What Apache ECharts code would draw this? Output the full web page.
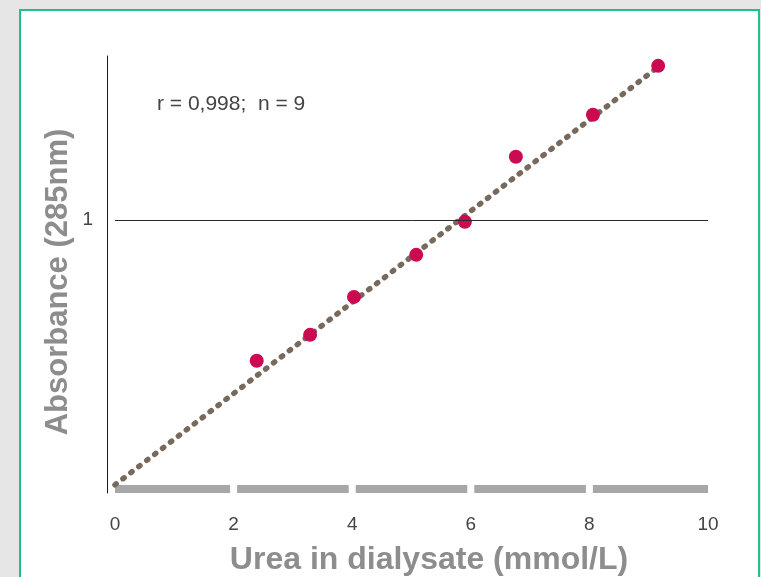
<!DOCTYPE html>
<html>
<head>
<meta charset="utf-8">
<script src="https://cdn.jsdelivr.net/npm/echarts@6/dist/echarts.min.js"></script>
<style>
  html, body { margin: 0; padding: 0; background: #e6e6e6; }
  #chart { width: 761px; height: 577px; }
</style>
</head>
<body>
<div id="chart"></div>
<script>
// Calibration measurements: urea concentration vs absorbance
const ureaValues = [2.39, 3.29, 4.03, 5.08, 5.90, 6.76, 8.06, 9.16];
const absorbanceValues = [0.484, 0.579, 0.718, 0.872, 0.993, 1.231, 1.385, 1.564];

// Regression line end points
const fitX = [0, 9.1];
const fitY = [0.03, 1.55];

// Axis ranges and ticks
const xTicks = [0, 2, 4, 6, 8, 10];
const yTickLabels = [1];
const statsText = 'r = 0,998;  n = 9';

const points = ureaValues.map((x, i) => [x, absorbanceValues[i]]);
const fitLine = fitX.map((x, i) => [x, fitY[i]]);
const baseSegments = xTicks.slice(0, -1).map((t, i) => [t, xTicks[i + 1]]);

const chart = echarts.init(document.getElementById('chart'), null, { renderer: 'canvas' });

const tickFont = { color: '#444444', fontSize: 19, fontFamily: '"Liberation Sans", Arial, sans-serif' };
const titleColor = '#8d8d8d';

chart.setOption({
  backgroundColor: '#e6e6e6',
  animation: false,
  grid: { left: 115, right: 53, top: 56, bottom: 84 },
  graphic: [
    {
      type: 'rect', z: -10, silent: true,
      shape: { x: 20, y: 10, width: 739, height: 600 },
      style: { fill: '#ffffff', stroke: '#22bf8e', lineWidth: 2 }
    },
    {
      type: 'text', z: 10,
      left: 157, top: 94,
      style: { text: statsText, fill: '#444444', font: '21px "Liberation Sans", Arial, sans-serif' }
    },
    {
      type: 'text', z: 10,
      x: 429, y: 560,
      style: {
        text: 'Urea in dialysate (mmol/L)', fill: titleColor,
        font: 'bold 32px "Liberation Sans", Arial, sans-serif',
        align: 'center', verticalAlign: 'middle'
      }
    },
    {
      type: 'text', z: 10,
      x: 58, y: 282, rotation: Math.PI / 2,
      style: {
        text: 'Absorbance (285nm)', fill: titleColor,
        font: 'bold 31px "Liberation Sans", Arial, sans-serif',
        align: 'center', verticalAlign: 'middle'
      }
    }
  ],
  xAxis: {
    type: 'value', min: 0, max: 10, interval: 2,
    axisLine: { show: false },
    axisTick: { show: false },
    splitLine: { show: false },
    axisLabel: { ...tickFont, margin: 22 }
  },
  yAxis: {
    type: 'value', min: 0, max: 1.6,
    offset: 8,
    axisLine: { show: true, onZero: false, lineStyle: { color: '#1a1a1a', width: 1 } },
    axisTick: { show: false },
    splitLine: { show: false },
    axisLabel: { ...tickFont, margin: 14, customValues: yTickLabels }
  },
  series: [
    {
      // segmented grey baseline along the x axis
      type: 'custom',
      silent: true,
      z: 1,
      data: baseSegments,
      renderItem: function (params, api) {
        const a = api.value(0), b = api.value(1);
        const p0 = api.coord([a, 0]);
        const p1 = api.coord([b, 0]);
        const gap = 3.5;
        const x0 = a === xTicks[0] ? p0[0] : p0[0] + gap;
        const x1 = b === xTicks[xTicks.length - 1] ? p1[0] : p1[0] - gap;
        return {
          type: 'rect',
          shape: { x: x0, y: p0[1] - 8, width: x1 - x0, height: 8 },
          style: { fill: '#a7a7a9' }
        };
      },
      encode: { x: [0, 1] }
    },
    {
      type: 'line',
      data: fitLine,
      symbol: 'none',
      z: 2,
      lineStyle: { color: '#776a5d', width: 5.5, type: [1.5, 8.5], cap: 'round' },
      markLine: {
        silent: true,
        symbol: 'none',
        label: { show: false },
        lineStyle: { color: '#2a2a2a', width: 1, type: 'solid' },
        data: [{ yAxis: 1 }]
      }
    },
    {
      type: 'scatter',
      data: points,
      symbol: 'circle',
      symbolSize: 14,
      z: 3,
      itemStyle: { color: '#cc0a52', opacity: 1 }
    }
  ]
});
</script>
</body>
</html>
